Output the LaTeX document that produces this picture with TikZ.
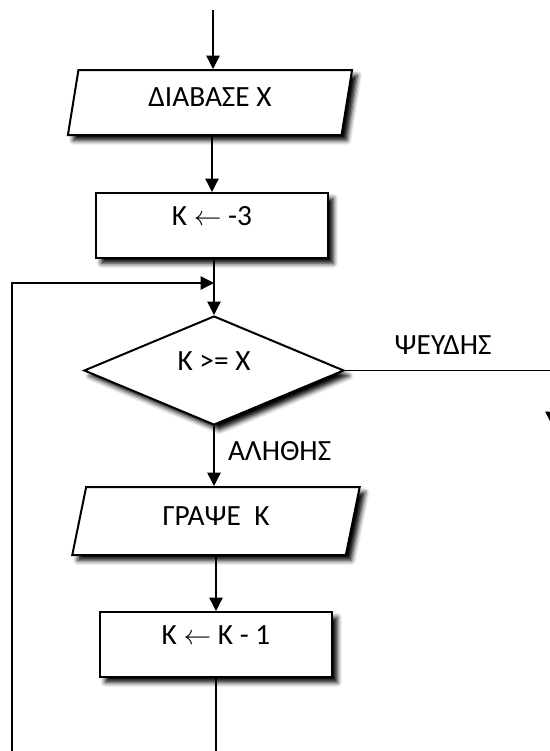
\documentclass[tikz,border=0pt]{standalone}
\usepackage{fontspec}
\setmainfont{Carlito}
\usetikzlibrary{shapes.geometric,arrows.meta,shadows.blur,calc}
\begin{document}
\begin{tikzpicture}[x=0.75pt,y=-0.75pt,
  box/.style={draw, line width=1.5pt, fill=white,
    blur shadow={shadow xshift=4pt, shadow yshift=-4pt, shadow blur radius=3.5pt, shadow opacity=100},
    inner sep=0pt, font=\fontsize{22}{26}\selectfont},
  iobox/.style={box, trapezium, trapezium stretches=true, text height=11pt, text depth=5pt},
  procbox/.style={box, rectangle, minimum width=174pt, minimum height=48.75pt, text height=9pt, text depth=9pt},
  decbox/.style={box, diamond, minimum width=195pt, minimum height=81.75pt, text height=9pt, text depth=9pt},
  conn/.style={line width=1pt, -{Triangle[length=10pt,width=10pt]}},
  plainline/.style={line width=1pt},
  lbl/.style={font=\fontsize{22}{26}\selectfont, inner sep=0pt}
]
\useasboundingbox (0,0) rectangle (550,751);

\coordinate (start) at (213,10);
\node[iobox, trapezium left angle=77, trapezium right angle=103, minimum width=213.75pt, minimum height=48.75pt] (p1) at (210,102.5) {ΔΙΑΒΑΣΕ Χ};
\node[procbox] (r1) at (212,225.5) {Κ $\leftarrow$ -3};
\node[decbox] (d) at (214,370.5) {Κ >= Χ};
\node[iobox, trapezium left angle=75, trapezium right angle=105, minimum width=216.75pt, minimum height=51pt] (p2) at (216,521) {ΓΡΑΨΕ~~Κ};
\node[procbox] (r2) at (216,644.5) {Κ $\leftarrow$ Κ - 1};

\coordinate (j) at (214,283);
\coordinate (lb) at (12,790);
\coordinate (fr) at (552,370.5);
\coordinate (fe) at (552,425);

\draw[conn] (start) -- (start |- p1.north);
\draw[conn] (p1.south -| r1.north) -- (r1.north);
\draw[plainline] (r1.south -| d.north) -- (j);
\draw[conn] (j) -- (d.north);
\draw[conn] (d.south) -- node[lbl, anchor=west, xshift=10pt, yshift=4pt] {ΑΛΗΘΗΣ} (d.south |- p2.north);
\draw[conn] (p2.south -| r2.north) -- (r2.north);
\draw[conn] (r2.south) -- (r2.south |- lb) -| (lb |- j) -- (j);
\draw[conn] (d.east) -- node[lbl, midway, yshift=19pt, xshift=-4pt] {ΨΕΥΔΗΣ} (fr) -- (fe);
\end{tikzpicture}
\end{document}
